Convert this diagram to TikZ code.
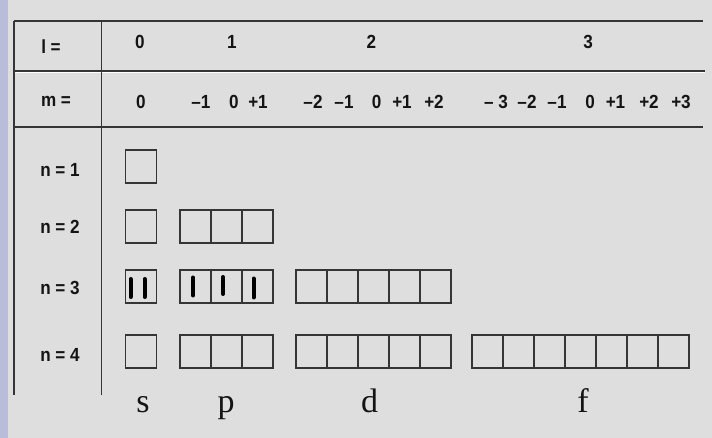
\documentclass[tikz,border=0pt]{standalone}
\usepackage{fontspec}
\setmainfont{Liberation Serif}
\newfontfamily\hdfont{Liberation Sans}[FakeStretch=0.9]
\usetikzlibrary{positioning}
\definecolor{bgcol}{HTML}{DEDEDE}
\definecolor{stripcol}{HTML}{B9BDD9}
\definecolor{linecol}{HTML}{353535}
\definecolor{textcol}{HTML}{141414}

\begin{document}
\begin{tikzpicture}[x=1pt, y=-1pt, line width=1.6pt]
  \tikzset{
    orb/.style={draw=linecol, line width=1.4pt, minimum width=31pt, minimum height=33pt, inner sep=0pt, outer sep=0pt},
    hd/.style={font=\hdfont\bfseries\fontsize{19}{21}\selectfont, text=textcol, inner sep=0pt},
    sub/.style={font=\fontsize{34}{36}\selectfont, text=textcol, inner sep=0pt, anchor=base},
    spin/.style={line width=4pt, line cap=round, black}
  }

  % Background
  \fill[bgcol] (0,0) rectangle (712,438);
  \fill[stripcol] (0,0) rectangle (8,438);
  \useasboundingbox (0,0) rectangle (712,438);

  % Frame
  \draw[linecol] (14,21) -- (703,21);
  \draw[linecol, line width=1.2pt] (14,71) -- (705,71);
  \draw[white, line width=0.8pt] (15,72.6) -- (705,72.6);
  \draw[linecol, line width=2pt] (14,127) -- (703,127);
  \draw[linecol] (14,21) -- (14,395);
  \draw[linecol] (101.5,21) -- (101.5,395);

  % Header
  \node[hd] (lname) at (51,47) {l =};
  \node[hd] (mname) at (56,101.5) {m =};
  \foreach \v/\x in {0/140, 1/232, 2/371.5, 3/588}
    \node[hd] (l\v) at (\x,42) {\v};
  \foreach \lab/\x [count=\i] in {0/141, –1/201, 0/234, +1/258, –2/313, –1/344, 0/376.7, +1/402, +2/434,
      {– 3}/496, –2/527, –1/557, 0/590, +1/615.5, +2/649, +3/681}
    \node[hd] (m\i) at (\x,101.5) {\lab};
  \foreach \n/\y in {1/169.5, 2/226.5, 3/287.5, 4/355}
    \node[hd] (n\n) at (60,\y) {n = \n};

  % Orbital boxes
  \foreach \n/\y in {1/166.5, 2/226.5, 3/286.5, 4/351.5}
    \node[orb] (s\n) at (141,\y) {};
  \foreach \n/\y in {2/226.5, 3/286.5, 4/351.5}
    \foreach \k in {1,2,3}
      \node[orb] (p\n\k) at ({164.5+31*\k},\y) {};
  \foreach \n/\y in {3/286.5, 4/351.5}
    \foreach \k in {1,...,5}
      \node[orb] (d\n\k) at ({280.5+31*\k},\y) {};
  \foreach \k in {1,...,7}
    \node[orb] (f4\k) at ({456.5+31*\k},351.5) {};

  % Electrons
  \draw[spin] (s3.center) ++(-10.5,-7.5) -- ++(0,18);
  \draw[spin] (s3.center) ++(3.5,-7.5) -- ++(0,18);
  \draw[spin] (p31.center) ++(-2.5,-9) -- ++(0,18);
  \draw[spin] (p32.center) ++(-3.5,-9.5) -- ++(0,17);
  \draw[spin] (p33.center) ++(-4,-8) -- ++(0,19);

  % Subshell letters
  \node[sub] (ls) at (143,412.5) {s};
  \node[sub] (lp) at (226,412.5) {p};
  \node[sub] (ld) at (369.5,412.5) {d};
  \node[sub] (lf) at (583,412.5) {f};
\end{tikzpicture}
\end{document}
